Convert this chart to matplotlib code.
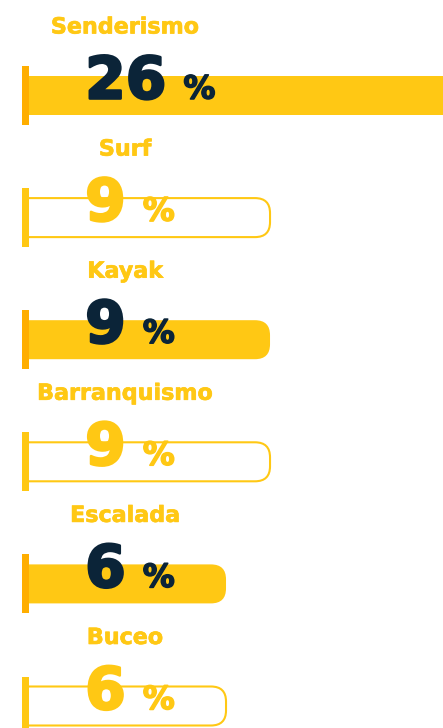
import matplotlib
matplotlib.use("Agg")
import matplotlib.pyplot as plt
from matplotlib.patches import FancyBboxPatch, Rectangle
import matplotlib.transforms as mtransforms
import matplotlib.patheffects as pe

# ---- data ----
categories = ["Senderismo", "Surf", "Kayak", "Barranquismo", "Escalada", "Buceo"]
values = [26, 9, 9, 9, 6, 6]
filled = [True, False, True, False, True, False]

# ---- style ----
YELLOW = "#FFC814"
ORANGE = "#FFAE00"
NAVY = "#0B2438"
FONT = "DejaVu Sans"

W, H = 443, 728
fig = plt.figure(figsize=(W / 100, H / 100), dpi=100)
marker_left_px = 22
ax = fig.add_axes([marker_left_px / W, 0, 1 - marker_left_px / W, 1])
ax.set_axis_off()

# scales
bar_base = -7.43          # value at which bars visually start
px_per_unit = 14.67
marker_w = 7 / px_per_unit
x_left = bar_base - marker_w
x_right = x_left + (W - marker_left_px) / px_per_unit
ax.set_xlim(x_left, x_right)

row_px = 122.1
top = -95.5 / row_px
bottom = top + H / row_px
ax.set_ylim(bottom, top)

aspect = px_per_unit / row_px
R = 15 / px_per_unit
bh = 39 / row_px
mh = 59 / row_px

blend = mtransforms.blended_transform_factory(ax.transAxes, ax.transData)

for i, (cat, v, f) in enumerate(zip(categories, values, filled)):
    x0 = x_left - 3
    bar = FancyBboxPatch((x0, i - bh / 2), v - x0, bh,
                         boxstyle=f"round,pad=0,rounding_size={R}",
                         mutation_aspect=aspect,
                         facecolor=YELLOW if f else "none",
                         edgecolor=YELLOW, linewidth=0 if f else 1.5,
                         zorder=2)
    ax.add_patch(bar)
    ax.add_patch(Rectangle((x_left, i - mh / 2), marker_w, mh,
                           facecolor=ORANGE if f else YELLOW,
                           edgecolor="none", zorder=3))
    col = NAVY if f else YELLOW
    num = ax.text(0.15, i + 0.025, f"{v}", transform=blend, ha="left",
                  va="baseline", fontsize=42, fontweight="bold",
                  family=FONT, color=col, zorder=4,
                  path_effects=[pe.withStroke(linewidth=1.8, foreground=col)])
    ax.annotate("%", xy=(1, i + 0.025), xycoords=(num, "data"),
                xytext=(17, 0), textcoords="offset pixels",
                ha="left", va="baseline", fontsize=23, fontweight="bold",
                family=FONT, color=col, zorder=4,
                path_effects=[pe.withStroke(linewidth=1.1, foreground=col)])
    ax.text(0.245, i - 0.508, cat, transform=blend, ha="center",
            va="baseline", fontsize=16, fontweight="bold", family=FONT,
            color=YELLOW, zorder=4,
            path_effects=[pe.withStroke(linewidth=0.5, foreground=YELLOW)])

fig.savefig("out.png", dpi=100)
